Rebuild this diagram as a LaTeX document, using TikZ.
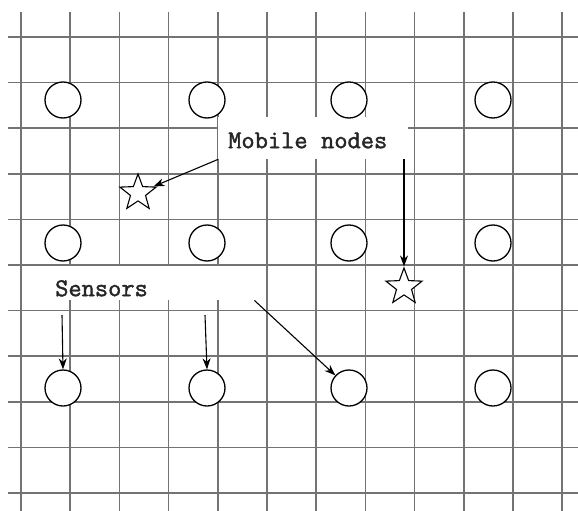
\documentclass[tikz,border=0pt]{standalone}
\usepackage{fontspec}
\setmonofont[FakeBold=1.5]{Latin Modern Mono}
\usetikzlibrary{shapes.geometric,arrows.meta,calc}
\definecolor{gridgray}{RGB}{115,115,115}
\begin{document}
\begin{tikzpicture}[x=1pt,y=-1pt,
  gridline/.style={draw=gridgray,line width=1.7pt},
  sensor/.style={circle,draw=black,fill=white,line width=1.3pt,minimum size=36pt,inner sep=0pt},
  mobile/.style={star,star points=5,star point ratio=2.4,draw=black,fill=white,line width=1.1pt,minimum size=38pt,inner sep=0pt},
  labelbox/.style={fill=white,inner ysep=0pt,align=left,font=\ttfamily\fontsize{25.7}{27}\selectfont,text=black!85},
  pointer/.style={draw=black,line width=1.1pt,-{Stealth[length=11pt,width=8pt]}}]
\useasboundingbox[fill=white] (0,0) rectangle (578,511);
% grid
\foreach \i in {0,...,11} \draw[gridline] ({21+49.2*\i},12) -- ({21+49.2*\i},511);
\foreach \j in {0,...,10} \draw[gridline] (8,{37+45.6*\j}) -- (578,{37+45.6*\j});
% labels (white patches over the grid)
\node[labelbox,anchor=north west,inner xsep=10pt,text width=170pt,text height=31pt,text depth=11pt] (mob) at (218,117) {Mobile\makebox[13.5pt]{}nodes};
\node[labelbox,anchor=north west,inner xsep=33pt,text width=166pt,text height=30pt,text depth=4pt] (sens) at (22,266) {Sensors};
% sensors
\foreach \r/\y in {1/100,2/243,3/388}
  \foreach \c/\x in {1/63,2/207,3/349,4/493}
    \node[sensor] (c\r\c) at (\x,\y) {};
% mobile nodes
\node[mobile] (s1) at (138,193) {};
\node[mobile] (s2) at (404,287) {};
% pointers
\coordinate (p1) at (62,315);
\coordinate (p2) at (205,315);
\draw[pointer] (mob.south west) -- (s1);
\draw[pointer] (s2.north |- mob.south) -- (s2.north);
\draw[pointer] (p1) -- (c31.north);
\draw[pointer] (p2) -- (c32.north);
\draw[pointer] (sens.south east) -- (c33);
\end{tikzpicture}
\end{document}
